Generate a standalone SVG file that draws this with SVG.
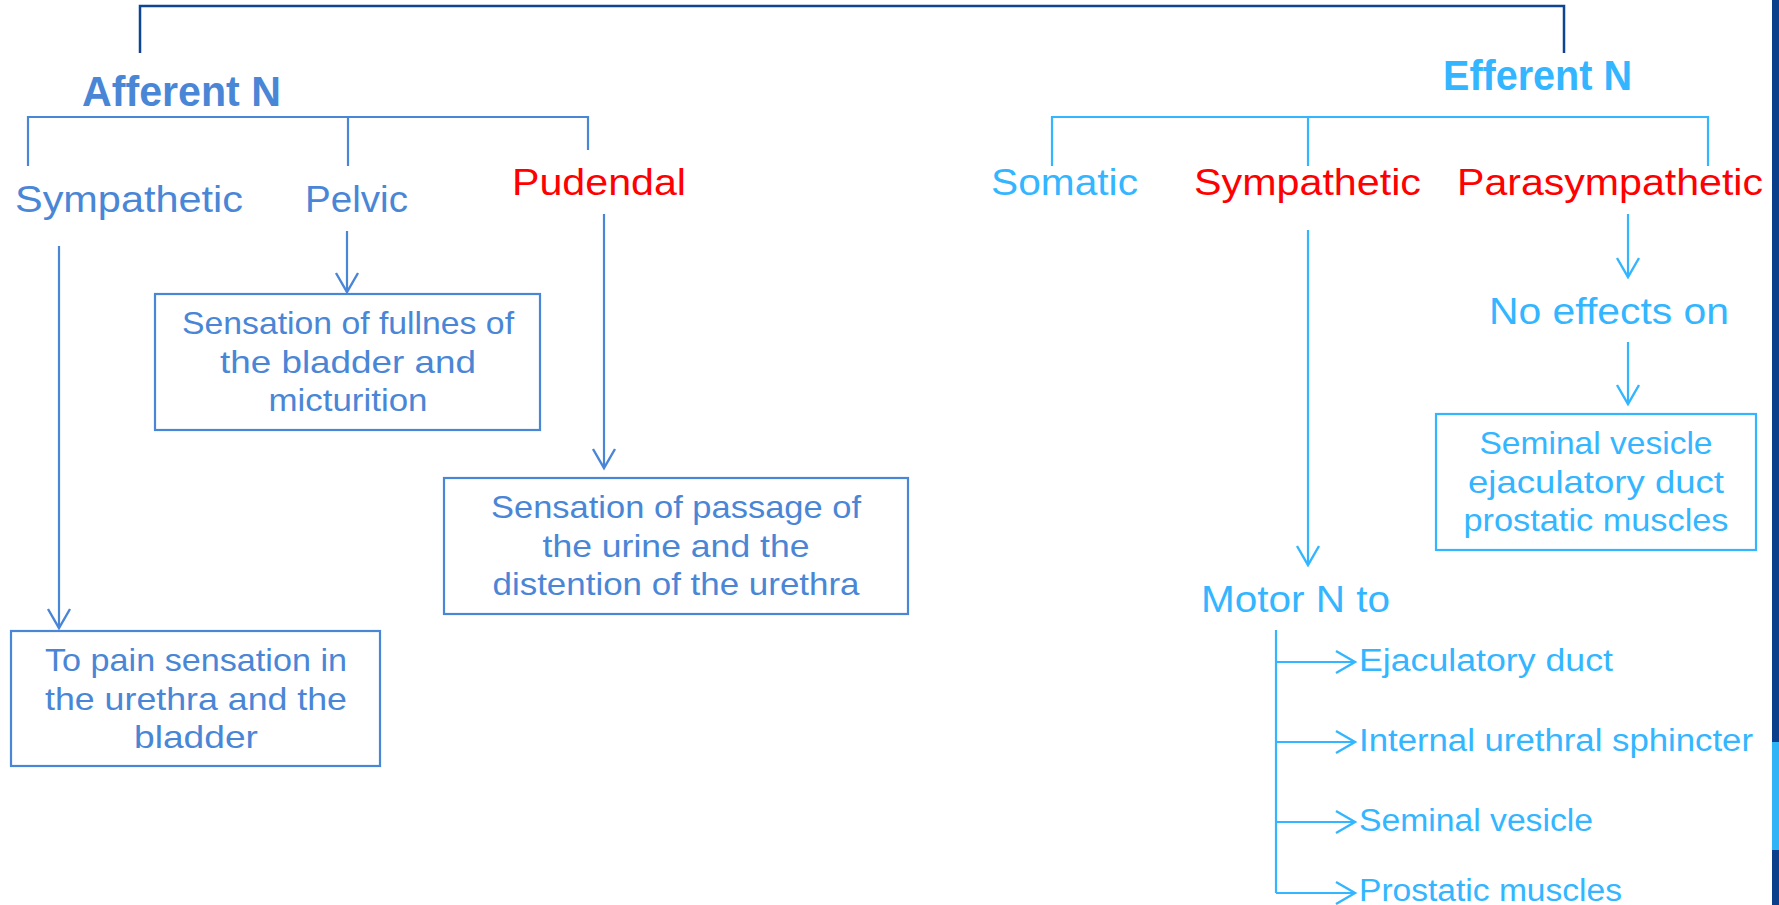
<svg xmlns="http://www.w3.org/2000/svg" width="1779" height="905" viewBox="0 0 1779 905">
<defs>
<style>
text{font-family:"Liberation Sans",Arial,sans-serif;}
.title{font-weight:bold;font-size:43px;}
.hd{font-size:36px;}
.bx{font-size:32px;text-anchor:middle;}
.li{font-size:31px;}
.aff{fill:#4A86D6;}
.eff{fill:#33B6FF;}
.red{fill:#FF0000;}
.ln{fill:none;stroke-width:2.2;}
.lA{stroke:#4A86D6;}
.lE{stroke:#33B6FF;}
.box{fill:none;stroke-width:2.2;}
</style>
<marker id="arA" markerUnits="userSpaceOnUse" markerWidth="40" markerHeight="40" refX="0" refY="0" orient="auto" overflow="visible">
<path d="M-19,-11 L0,0 L-19,11" fill="none" stroke="#4A86D6" stroke-width="2.4"/>
</marker>
<marker id="arE" markerUnits="userSpaceOnUse" markerWidth="40" markerHeight="40" refX="0" refY="0" orient="auto" overflow="visible">
<path d="M-19,-11 L0,0 L-19,11" fill="none" stroke="#33B6FF" stroke-width="2.4"/>
</marker>
</defs>
<rect width="1779" height="905" fill="#FFFFFF"/>
<rect x="1772" y="0" width="7" height="905" fill="#0B3F8C"/>
<rect x="1772" y="742" width="7" height="108" fill="#30B4F8"/>

<g id="connectors">
<path d="M140,53 V6 H1564 V53" fill="none" stroke="#0E4493" stroke-width="2.5"/>
<path class="ln lA" d="M28,166 V117 H588 V150 M348,117 V166"/>
<path class="ln lE" d="M1052,166 V117 H1708 V166 M1308,117 V166"/>
<path class="ln lA" d="M59,246 V628" marker-end="url(#arA)"/>
<path class="ln lA" d="M347,231 V292" marker-end="url(#arA)"/>
<path class="ln lA" d="M604,214 V468" marker-end="url(#arA)"/>
<path class="ln lE" d="M1308,230 V565" marker-end="url(#arE)"/>
<path class="ln lE" d="M1628,214 V277" marker-end="url(#arE)"/>
<path class="ln lE" d="M1628,342 V404" marker-end="url(#arE)"/>
<path class="ln lE" d="M1276,630 V893"/>
<path class="ln lE" d="M1276,662 H1355" marker-end="url(#arE)"/>
<path class="ln lE" d="M1276,742 H1355" marker-end="url(#arE)"/>
<path class="ln lE" d="M1276,822 H1355" marker-end="url(#arE)"/>
<path class="ln lE" d="M1276,893 H1355" marker-end="url(#arE)"/>
</g>

<g id="afferent"><text class="title aff" x="82" y="106" textLength="199" lengthAdjust="spacingAndGlyphs">Afferent N</text></g>
<g id="efferent"><text class="title eff" x="1443" y="90" textLength="189" lengthAdjust="spacingAndGlyphs">Efferent N</text></g>

<g id="aff-sympathetic"><text class="hd aff" x="15" y="212" textLength="228" lengthAdjust="spacingAndGlyphs">Sympathetic</text></g>
<g id="aff-pelvic"><text class="hd aff" x="305" y="212" textLength="103" lengthAdjust="spacingAndGlyphs">Pelvic</text></g>
<g id="aff-pudendal"><text class="hd red" x="512" y="195" textLength="174" lengthAdjust="spacingAndGlyphs">Pudendal</text></g>

<g id="eff-somatic"><text class="hd eff" x="991" y="195" textLength="147" lengthAdjust="spacingAndGlyphs">Somatic</text></g>
<g id="eff-sympathetic"><text class="hd red" x="1194" y="195" textLength="227" lengthAdjust="spacingAndGlyphs">Sympathetic</text></g>
<g id="eff-parasympathetic"><text class="hd red" x="1457" y="195" textLength="306" lengthAdjust="spacingAndGlyphs">Parasympathetic</text></g>

<g id="box-pelvic">
<rect class="box lA" x="155" y="294" width="385" height="136"/>
<text class="bx aff" x="348" y="334" textLength="332" lengthAdjust="spacingAndGlyphs">Sensation of fullnes of</text>
<text class="bx aff" x="348" y="373" textLength="256" lengthAdjust="spacingAndGlyphs">the bladder and</text>
<text class="bx aff" x="348" y="411" textLength="159" lengthAdjust="spacingAndGlyphs">micturition</text>
</g>

<g id="box-pudendal">
<rect class="box lA" x="444" y="478" width="464" height="136"/>
<text class="bx aff" x="676" y="518" textLength="370" lengthAdjust="spacingAndGlyphs">Sensation of passage of</text>
<text class="bx aff" x="676" y="557" textLength="267" lengthAdjust="spacingAndGlyphs">the urine and the</text>
<text class="bx aff" x="676" y="595" textLength="367" lengthAdjust="spacingAndGlyphs">distention of the urethra</text>
</g>

<g id="box-sympathetic">
<rect class="box lA" x="11" y="631" width="369" height="135"/>
<text class="bx aff" x="196" y="671" textLength="302" lengthAdjust="spacingAndGlyphs">To pain sensation in</text>
<text class="bx aff" x="196" y="710" textLength="302" lengthAdjust="spacingAndGlyphs">the urethra and the</text>
<text class="bx aff" x="196" y="748" textLength="124" lengthAdjust="spacingAndGlyphs">bladder</text>
</g>

<g id="no-effects"><text class="hd eff" x="1489" y="324" textLength="240" lengthAdjust="spacingAndGlyphs">No effects on</text></g>

<g id="box-seminal">
<rect class="box lE" x="1436" y="414" width="320" height="136"/>
<text class="bx eff" x="1596" y="454" textLength="233" lengthAdjust="spacingAndGlyphs">Seminal vesicle</text>
<text class="bx eff" x="1596" y="493" textLength="256" lengthAdjust="spacingAndGlyphs">ejaculatory duct</text>
<text class="bx eff" x="1596" y="531" textLength="265" lengthAdjust="spacingAndGlyphs">prostatic muscles</text>
</g>

<g id="motor"><text class="hd eff" x="1201" y="612" textLength="189" lengthAdjust="spacingAndGlyphs">Motor N to</text></g>
<g id="t-ejaculatory"><text class="li eff" x="1359" y="671" textLength="254" lengthAdjust="spacingAndGlyphs">Ejaculatory duct</text></g>
<g id="t-internal"><text class="li eff" x="1359" y="751" textLength="394" lengthAdjust="spacingAndGlyphs">Internal urethral sphincter</text></g>
<g id="t-seminal"><text class="li eff" x="1359" y="831" textLength="234" lengthAdjust="spacingAndGlyphs">Seminal vesicle</text></g>
<g id="t-prostatic"><text class="li eff" x="1359" y="901" textLength="263" lengthAdjust="spacingAndGlyphs">Prostatic muscles</text></g>
</svg>
